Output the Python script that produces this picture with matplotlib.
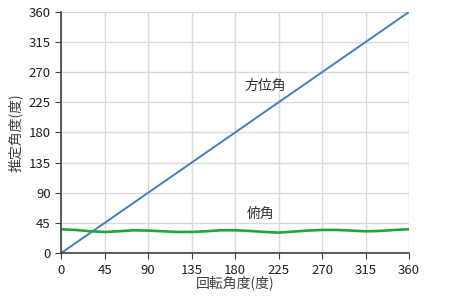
import matplotlib.pyplot as plt
import numpy as np

plt.rcParams["font.family"] = ["Noto Sans CJK JP", "DejaVu Sans"]

# rotation angle (deg)
rotation = [0, 15, 30, 45, 60, 75, 90, 105, 120, 135, 150, 165, 180,
            195, 210, 225, 240, 255, 270, 285, 300, 315, 330, 345, 360]
# estimated azimuth
azimuth = [0, 15, 30, 45, 60, 75, 90, 105, 120, 135, 150, 165, 180,
           195, 210, 225, 240, 255, 270, 285, 300, 315, 330, 345, 360]
# estimated elevation
elevation = [35.5, 34.5, 32.5, 31.5, 32.5, 34, 33.5, 32.5, 31.5, 31.5, 32.5, 34, 34,
             33, 31.5, 30.5, 32, 33.5, 34.5, 34.5, 33.5, 32.5, 33, 34.5, 35.5]

ticks = [0, 45, 90, 135, 180, 225, 270, 315, 360]

fig = plt.figure(figsize=(4.5, 2.97), dpi=100)
ax = fig.add_axes([0.136, 0.148, 0.773, 0.812])

ax.plot(rotation, azimuth, color="#3F7FC4", linewidth=1.4)
ax.plot(rotation, elevation, color="#1FA53A", linewidth=1.9)

ax.set_xlim(0, 360)
ax.set_ylim(0, 360)
ax.set_xticks(ticks)
ax.set_yticks(ticks)
ax.grid(True, color="#D9D9D9", linewidth=1.0)
ax.set_axisbelow(True)

for side in ["top", "right"]:
    ax.spines[side].set_visible(False)
for side in ["left", "bottom"]:
    ax.spines[side].set_color("#404040")
    ax.spines[side].set_linewidth(1.2)

ax.tick_params(axis="both", labelsize=9.5, colors="#404040", length=4,
               labelcolor="#202020")
ax.tick_params(axis="x", pad=4)

ax.set_xlabel("回転角度(度)", fontsize=10, color="#404040", labelpad=-1)
ax.set_ylabel("推定角度(度)", fontsize=10, color="#404040", labelpad=4)

ax.text(211, 249, "方位角", fontsize=10, color="#303030", ha="center", va="center")
ax.text(206, 58, "俯角", fontsize=10, color="#303030", ha="center", va="center")

fig.savefig("out.png", dpi=100)
